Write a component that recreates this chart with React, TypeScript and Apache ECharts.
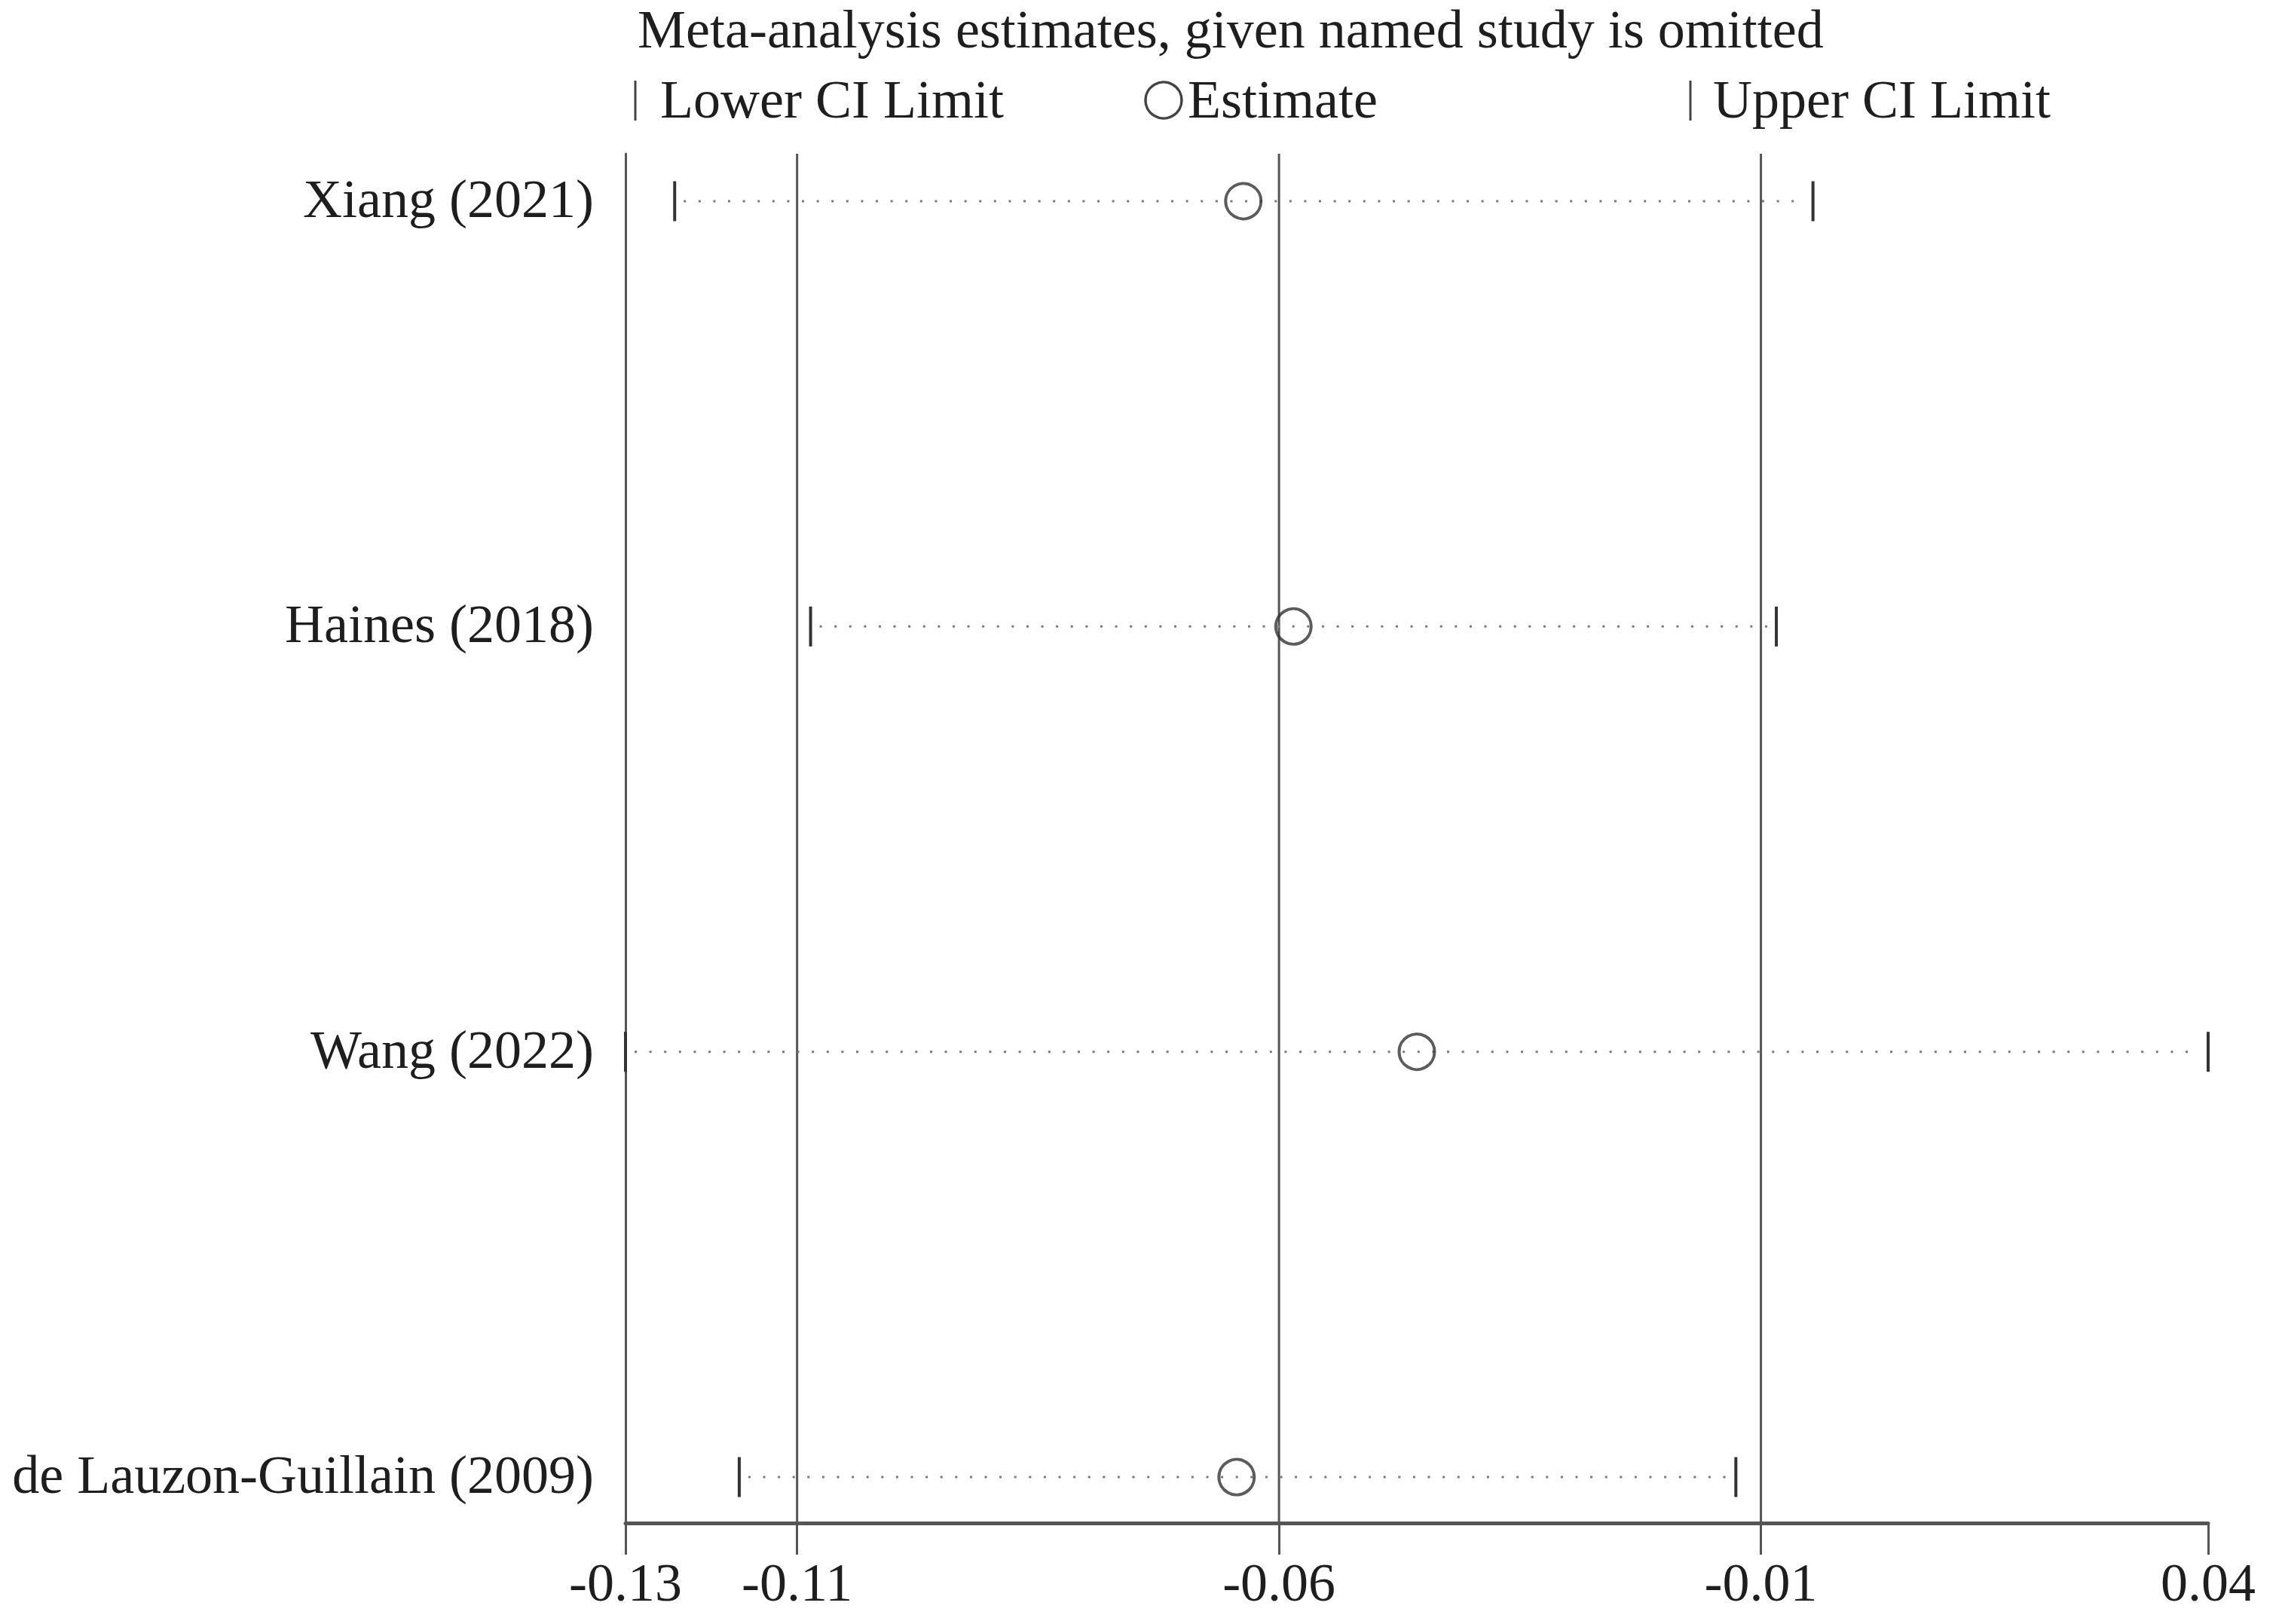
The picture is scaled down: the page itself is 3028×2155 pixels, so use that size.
import React, { useEffect, useRef } from "react";
import * as echarts from "echarts";

const studies = ["Xiang (2021)", "Haines (2018)", "Wang (2022)", "de Lauzon-Guillain (2009)"];
const estimates = [-0.0637, -0.0585, -0.0457, -0.0644];
const lowerCI = [-0.1227, -0.1086, -0.1278, -0.116];
const upperCI = [-0.0046, -0.0084, 0.0364, -0.0126];
const axisTicks = [-0.1278, -0.11, -0.06, -0.01, 0.0364];
const refLines = [-0.11, -0.06, -0.01];
const titleText = "Meta-analysis estimates, given named study is omitted";
const legendLabels = ["Lower CI Limit", "Estimate", "Upper CI Limit"];

const FONT = "'Liberation Serif', 'Times New Roman', Times, serif";
const FS = 72;
const TXT = "#1e1e1e";
const X_MIN = axisTicks[0];
const X_MAX = axisTicks[axisTicks.length - 1];
const Y_MIN = -0.1116;
const Y_MAX = 3.108;

export default function App() {
  const ref = useRef<HTMLDivElement>(null);
  useEffect(() => {
    if (!ref.current) return;
    const chart = echarts.init(ref.current, null, { renderer: "svg" });
    const textStyle = (text: string, align: string) => ({
      text,
      fill: TXT,
      font: `${FS}px ${FONT}`,
      fontSize: FS,
      fontFamily: FONT,
      align,
      verticalAlign: "middle",
      textAlign: align,
      textVerticalAlign: "middle",
    });
    const option: any = {
      animation: false,
      backgroundColor: "#ffffff",
      grid: { left: 830, right: 98, top: 204, bottom: 134, containLabel: false, outerBoundsMode: "none" },
      xAxis: {
        type: "value",
        position: "bottom",
        min: X_MIN,
        max: X_MAX,
        axisLine: { show: true, onZero: false, lineStyle: { color: "#555", width: 5 } },
        splitLine: { show: false },
        axisTick: {
          show: true,
          inside: false,
          length: 42,
          customValues: axisTicks,
          lineStyle: { color: "#555", width: 3 },
        },
        axisLabel: {
          show: true,
          customValues: axisTicks,
          margin: 43,
          color: TXT,
          fontSize: FS,
          fontFamily: FONT,
          formatter: (v: number) => v.toFixed(2),
        },
      },
      yAxis: {
        type: "value",
        position: "left",
        inverse: true,
        min: Y_MIN,
        max: Y_MAX,
        axisLine: { show: true, onZero: false, lineStyle: { color: "#555", width: 3 } },
        axisTick: { show: false },
        axisLabel: { show: false },
        splitLine: { show: false },
      },
      graphic: {
        elements: [
          { type: "text", left: 846, top: 39 - FS / 2, style: { text: titleText, fill: TXT, font: `${FS}px ${FONT}` } },
          { type: "line", shape: { x1: 843, y1: 107, x2: 843, y2: 160 }, style: { stroke: "#444", lineWidth: 3 } },
          { type: "text", left: 876, top: 132 - FS / 2, style: { text: legendLabels[0], fill: TXT, font: `${FS}px ${FONT}` } },
          { type: "circle", shape: { cx: 1544, cy: 133, r: 24 }, style: { fill: "none", stroke: "#444", lineWidth: 3.5 } },
          { type: "text", left: 1576, top: 132 - FS / 2, style: { text: legendLabels[1], fill: TXT, font: `${FS}px ${FONT}` } },
          { type: "line", shape: { x1: 2243, y1: 107, x2: 2243, y2: 160 }, style: { stroke: "#444", lineWidth: 3 } },
          { type: "text", left: 2273, top: 132 - FS / 2, style: { text: legendLabels[2], fill: TXT, font: `${FS}px ${FONT}` } },
        ],
      },
      series: [
        {
          type: "custom",
          name: "refLines",
          clip: false,
          silent: true,
          data: refLines.map((v) => [v]),
          encode: { x: 0 },
          renderItem: (params: any, api: any) => {
            const v = api.value(0);
            const t = api.coord([v, Y_MIN]);
            const b = api.coord([v, Y_MAX]);
            return {
              type: "line",
              shape: { x1: t[0], y1: t[1], x2: b[0], y2: b[1] },
              style: { stroke: "#555", lineWidth: 3 },
            };
          },
        },
        {
          type: "custom",
          name: "CI",
          clip: false,
          silent: true,
          data: studies.map((_, i) => [lowerCI[i], upperCI[i], i]),
          encode: { x: [0, 1], y: 2 },
          renderItem: (params: any, api: any) => {
            const lo = api.coord([api.value(0), api.value(2)]);
            const hi = api.coord([api.value(1), api.value(2)]);
            const h = 26.5;
            return {
              type: "group",
              children: [
                {
                  type: "line",
                  shape: { x1: lo[0] + 12, y1: lo[1], x2: hi[0] - 12, y2: hi[1] },
                  style: { stroke: "#7a7a7a", lineWidth: 3, lineDash: [3, 16.6] },
                },
                {
                  type: "line",
                  shape: { x1: lo[0], y1: lo[1] - h, x2: lo[0], y2: lo[1] + h },
                  style: { stroke: "#333", lineWidth: 4 },
                },
                {
                  type: "line",
                  shape: { x1: hi[0], y1: hi[1] - h, x2: hi[0], y2: hi[1] + h },
                  style: { stroke: "#333", lineWidth: 4 },
                },
              ],
            };
          },
        },
        {
          type: "scatter",
          name: "Estimate",
          symbol: "circle",
          symbolSize: 47,
          z: 5,
          data: estimates.map((v, i) => [v, i]),
          itemStyle: { color: "rgba(0,0,0,0)", borderColor: "#333", borderWidth: 4 },
        },
        {
          type: "custom",
          name: "rowLabels",
          clip: false,
          silent: true,
          data: studies.map((_, i) => [X_MIN, i]),
          encode: { x: 0, y: 1 },
          renderItem: (params: any, api: any) => {
            const p = api.coord([api.value(0), api.value(1)]);
            return {
              type: "text",
              x: p[0] - 42,
              y: p[1] - 3,
              style: textStyle(studies[params.dataIndex], "right"),
            };
          },
        },
      ],
    };
    chart.setOption(option);
    return () => chart.dispose();
  }, []);
  return (
    <div
      ref={ref}
      style={{ position: "fixed", left: 0, top: 0, width: 3028, height: 2155, background: "#fff" }}
    />
  );
}
